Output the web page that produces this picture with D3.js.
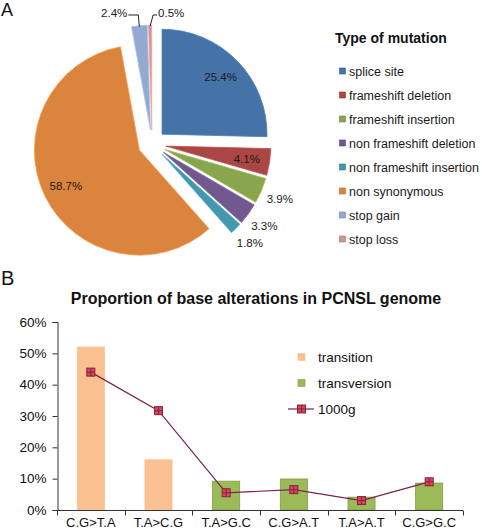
<!DOCTYPE html>
<html><head><meta charset="utf-8">
<script src="https://cdn.jsdelivr.net/npm/d3@7"></script>
<style>
html,body{margin:0;padding:0;background:#fff;}
svg{display:block;}
text{font-family:"Liberation Sans",Arial,sans-serif;}
</style></head>
<body>
<script>
// ---------- Data: panel A ----------
const mutationTypes = ["splice site","frameshift deletion","frameshift insertion","non frameshift deletion","non frameshift insertion","non synonymous","stop gain","stop loss"];
const mutationPct = [25.4, 4.1, 3.9, 3.3, 1.8, 58.7, 2.4, 0.5];
const mutationColors = ["#4572A7","#AA4643","#89A54E","#71588F","#4198AF","#DB843D","#93A9CF","#D19392"];
const labelMode = ["in","in","out","out","out","in","leaderL","leaderR"];

// ---------- Data: panel B ----------
const baseChanges = ["C.G>T.A","T.A>C.G","T.A>G.C","C.G>A.T","T.A>A.T","C.G>G.C"];
const baseValues = [52.0, 16.0, 9.2, 9.9, 4.1, 8.6];
const baseClass = ["transition","transition","transversion","transversion","transversion","transversion"];
const g1000Values = [44.0, 31.7, 5.5, 6.5, 3.0, 9.0];
const yTickValues = [0, 10, 20, 30, 40, 50, 60];
const seriesNames = ["transition","transversion","1000g"];

const W = 482, H = 530;
const svg = d3.select("body").append("svg").attr("width", W).attr("height", H);

// ---------- Panel labels ----------
svg.append("text").attr("x", 1).attr("y", 16).attr("font-size", 18).attr("fill","#111").text("A");
svg.append("text").attr("x", 1).attr("y", 285).attr("font-size", 20).attr("fill","#111").text("B");

// ---------- Pie ----------
const cx = 152, cy = 144, R = 105, explode = 14;
const pie = d3.pie().sort(null).value(d => d);
const arcs = pie(mutationPct);
const arc = d3.arc().innerRadius(0).outerRadius(R);
const pieG = svg.append("g").attr("transform", `translate(${cx},${cy})`);

arcs.forEach((a, i) => {
  const mid = (a.startAngle + a.endAngle) / 2;
  const dx = Math.sin(mid) * explode, dy = -Math.cos(mid) * explode;
  const g = pieG.append("g").attr("transform", `translate(${dx},${dy})`);
  g.append("path").attr("d", arc(a))
    .attr("fill", mutationColors[i])
    .attr("stroke", d3.color(mutationColors[i]).brighter(0.4))
    .attr("stroke-width", 0.8);
  const label = mutationPct[i].toFixed(1) + "%";
  const mode = labelMode[i];
  if (mode === "in" || mode === "out") {
    const lr = mode === "in" ? R * 0.78 : R * 1.19;
    g.append("text")
      .attr("x", Math.sin(mid) * lr).attr("y", -Math.cos(mid) * lr)
      .attr("dy", "0.35em").attr("text-anchor", "middle")
      .attr("font-size", 11.5).attr("fill", "#1a1a1a").text(label);
  } else {
    const side = mode === "leaderL" ? -1 : 1;
    const p0 = [Math.sin(mid) * R, -Math.cos(mid) * (R - 1)];
    const lineY = 15 - cy - dy;
    const p1 = [p0[0] + (side < 0 ? -1 : 3), lineY];
    const p2 = [p1[0] + (side < 0 ? -10 : 4), lineY];
    g.append("path").attr("d", d3.line()([p0, p1, p2]))
      .attr("fill", "none").attr("stroke", "#222").attr("stroke-width", 1);
    g.append("text").attr("x", p2[0] + side * 1).attr("y", lineY + 1.8)
      .attr("text-anchor", side < 0 ? "end" : "start")
      .attr("font-size", 11.5).attr("fill", "#1a1a1a").text(label);
  }
});

// ---------- Pie legend ----------
svg.append("text").attr("x", 335).attr("y", 43).attr("font-size", 14)
  .attr("font-weight", "bold").attr("fill", "#111").text("Type of mutation");
const legY = d3.scalePoint().domain(mutationTypes).range([71.5, 239.5]);
const legA = svg.append("g");
mutationTypes.forEach((t, i) => {
  legA.append("rect").attr("x", 339.5).attr("y", legY(t) - 3.5).attr("width", 6).attr("height", 6)
    .attr("fill", mutationColors[i]).attr("stroke", d3.color(mutationColors[i]).darker(0.6)).attr("stroke-width", 0.6);
  legA.append("text").attr("x", 349).attr("y", legY(t)).attr("dy", "0.35em")
    .attr("font-size", 12.5).attr("fill", "#1a1a1a").text(t);
});

// ---------- Bar/line chart ----------
const x0 = 57, x1 = 463, y0 = 510, y1 = 322;
const x = d3.scaleBand().domain(baseChanges).range([x0, x1]).paddingInner(0).paddingOuter(0);
const y = d3.scaleLinear().domain([0, 60]).range([y0, y1]);
const classColor = { transition: "#FAC090", transversion: "#9BBB59" };
const classStroke = { transition: "#FAC090", transversion: "#7E9B45" };

svg.append("text").attr("x", 256).attr("y", 304).attr("text-anchor", "middle")
  .attr("font-size", 16).attr("font-weight", "bold").attr("fill", "#111")
  .text("Proportion of base alterations in PCNSL genome");

const bw = x.bandwidth() * 0.4;
svg.append("g").selectAll("rect").data(baseChanges).join("rect")
  .attr("x", d => x(d) + (x.bandwidth() - bw) / 2)
  .attr("y", (d, i) => y(baseValues[i]))
  .attr("width", bw)
  .attr("height", (d, i) => y0 - y(baseValues[i]))
  .attr("fill", (d, i) => classColor[baseClass[i]])
  .attr("stroke", (d, i) => classStroke[baseClass[i]])
  .attr("stroke-width", 0.8);

// Y axis
const yAxis = d3.axisLeft(y).tickValues(yTickValues).tickSize(5).tickPadding(6)
  .tickFormat(d => d + "%");
const yg = svg.append("g").attr("transform", `translate(${x0 + 0.5},0)`).call(yAxis);
yg.select(".domain").attr("stroke", "#333");
yg.selectAll(".tick line").attr("stroke", "#333");
yg.selectAll(".tick text").attr("font-size", 13.5).attr("fill", "#111")
  .attr("font-family", "'Liberation Sans',Arial,sans-serif");

// X axis
const xg = svg.append("g").attr("transform", `translate(0,${y0 + 0.5})`);
xg.append("line").attr("x1", x0).attr("x2", x1).attr("stroke", "#333");
const bounds = baseChanges.map(d => x(d)).concat([x1]);
xg.selectAll("line.tk").data(bounds).join("line").attr("class", "tk")
  .attr("x1", d => Math.round(d) + 0.5).attr("x2", d => Math.round(d) + 0.5)
  .attr("y1", 0).attr("y2", 5).attr("stroke", "#333");
xg.selectAll("text").data(baseChanges).join("text")
  .attr("x", d => x(d) + x.bandwidth() / 2).attr("y", 16.5)
  .attr("text-anchor", "middle").attr("font-size", 13).attr("fill", "#111").text(d => d);

// 1000g line
const lineColor = "#7B2150";
const pts = baseChanges.map((d, i) => [x(d) + x.bandwidth() / 2, y(g1000Values[i])]);
svg.append("path").attr("d", d3.line()(pts)).attr("fill", "none")
  .attr("stroke", lineColor).attr("stroke-width", 1.2);

function marker(g, px, py) {
  const s = 8;
  g.append("rect").attr("x", px - s / 2).attr("y", py - s / 2).attr("width", s).attr("height", s)
    .attr("fill", "#D2485F").attr("stroke", "#8B2037").attr("stroke-width", 1);
  g.append("line").attr("x1", px - s / 2).attr("x2", px + s / 2).attr("y1", py).attr("y2", py)
    .attr("stroke", "#8B2037").attr("stroke-width", 1);
  g.append("line").attr("x1", px).attr("x2", px).attr("y1", py - s / 2).attr("y2", py + s / 2)
    .attr("stroke", "#8B2037").attr("stroke-width", 1);
}
const mg = svg.append("g");
pts.forEach(p => marker(mg, p[0], p[1]));

// Legend B
const legB = svg.append("g");
const legBY = d3.scalePoint().domain(seriesNames).range([357, 409]);
seriesNames.forEach((n, i) => {
  const yy = legBY(n);
  if (i < 2) {
    legB.append("rect").attr("x", 298).attr("y", yy - 3.5).attr("width", 7).attr("height", 7)
      .attr("fill", classColor[n]).attr("stroke", classStroke[n]).attr("stroke-width", 0.6);
  } else {
    legB.append("line").attr("x1", 288).attr("x2", 314).attr("y1", yy).attr("y2", yy)
      .attr("stroke", lineColor).attr("stroke-width", 1.2);
    marker(legB, 301.5, yy);
  }
  legB.append("text").attr("x", 318).attr("y", yy).attr("dy", "0.35em")
    .attr("font-size", 13.5).attr("fill", "#111").text(n);
});
</script>
</body></html>
